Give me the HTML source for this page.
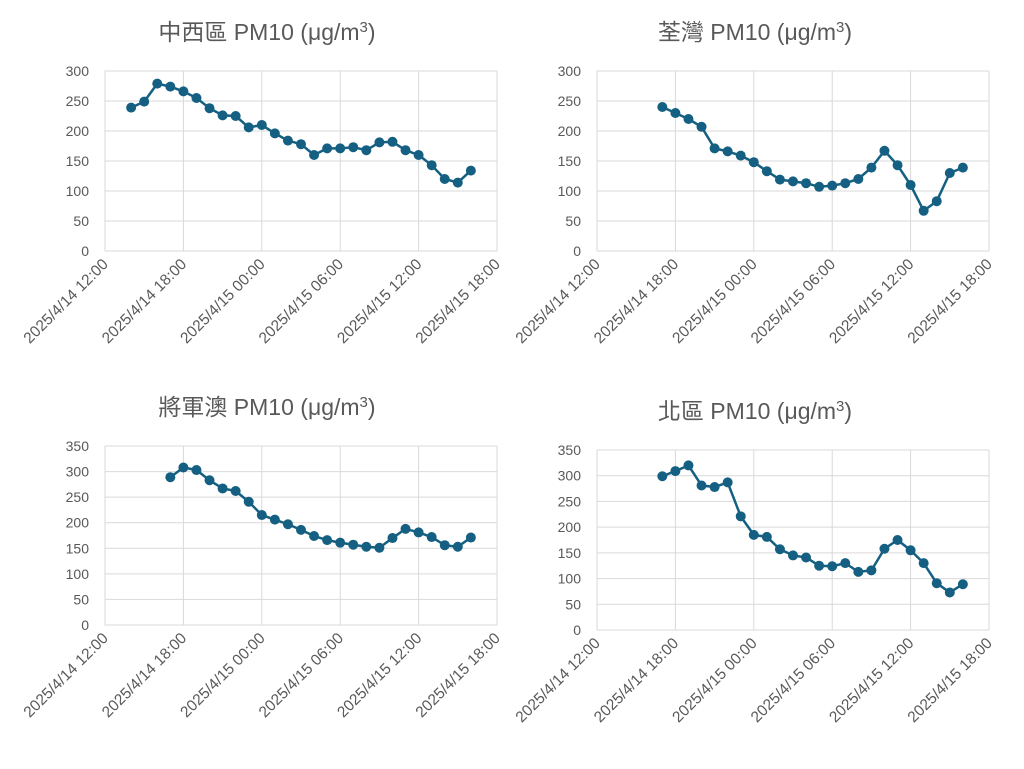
<!DOCTYPE html>
<html><head><meta charset="utf-8"><style>
body{margin:0;background:#fff;width:1024px;height:764px;overflow:hidden}
svg{font-family:"Liberation Sans","Noto Sans CJK TC",sans-serif}
</style></head><body>
<svg id="c" width="1024" height="764" viewBox="0 0 1024 764"></svg>
<script>
const tickLabels = ["2025/4/14 12:00","2025/4/14 18:00","2025/4/15 00:00","2025/4/15 06:00","2025/4/15 12:00","2025/4/15 18:00"];
const titles = ["中西區","荃灣","將軍澳","北區"];
const startHours = [2,5,5,5];
const centralValues = [239,249,279,274,266,255,238,226,225,206,210,196,184,178,160,171,171,173,168,181,182,168,160,143,120,114,134];
const tsuenWanValues = [240,230,220,207,171,166,159,148,133,119,116,113,107,109,113,120,139,167,143,110,67,83,130,139];
const tseungKwanOValues = [289,308,303,283,267,262,241,215,206,197,186,174,166,161,157,153,151,170,188,181,172,156,153,171];
const northValues = [299,309,320,281,278,287,221,185,181,157,145,141,125,124,130,113,116,158,175,155,130,91,73,89];
const yMaxes = [300,300,350,350];
const seriesList = [centralValues,tsuenWanValues,tseungKwanOValues,northValues];
const panels = [
 {x0:105,x1:497,yTop:71,yBot:251,tx:267,ty:40},
 {x0:597,x1:989,yTop:71,yBot:251,tx:755,ty:40},
 {x0:105,x1:497,yTop:446,yBot:625,tx:267,ty:415},
 {x0:597,x1:989,yTop:450,yBot:630,tx:755,ty:419}
];
const svg=document.getElementById('c');
const NS='http://www.w3.org/2000/svg';
function mk(tag,attrs,parent){const e=document.createElementNS(NS,tag);for(const k in attrs)e.setAttribute(k,attrs[k]);(parent||svg).appendChild(e);return e;}
panels.forEach((p,i)=>{
 const g=mk('g',{});
 
 
 const yMax=yMaxes[i];
 const xs=h=>p.x0+(p.x1-p.x0)*h/30;
 const ys=v=>p.yBot-(p.yBot-p.yTop)*v/yMax;
 const t=mk('text',{x:p.tx,y:p.ty,'text-anchor':'middle','font-size':23,fill:'#595959'},g);
 
 
 t.innerHTML=titles[i]+' PM10 (μg/m<tspan font-size="15" dy="-8">3</tspan><tspan dy="8">)</tspan>';
 for(let v=0;v<=yMax;v+=50){
  const l=mk('line',{x1:p.x0,x2:p.x1,y1:ys(v),y2:ys(v),stroke:'#d9d9d9','stroke-width':1},g);
  
  
  const tt=mk('text',{x:p.x0-16,y:ys(v)+5,'text-anchor':'end','font-size':14,fill:'#595959'},g);
  
  
  tt.textContent=v;
 }
 tickLabels.forEach((lab,k)=>{
  const x=xs(k*6);
  const l=mk('line',{x1:x,x2:x,y1:p.yTop,y2:p.yBot,stroke:'#d9d9d9','stroke-width':1},g);
  
  
  const tt=mk('text',{x:x+4,y:p.yBot+14,'text-anchor':'end','font-size':15.5,fill:'#595959',transform:`rotate(-45 ${x+4} ${p.yBot+14})`},g);
  
  
  tt.textContent=lab;
 });
 const vals=seriesList[i];
 const pts=vals.map((v,j)=>[xs(startHours[i]+j),ys(v)]);
 const pl=mk('polyline',{points:pts.map(q=>q.join(',')).join(' '),fill:'none',stroke:'#156082','stroke-width':2.5,'stroke-linejoin':'round'},g);
 
 
 pts.forEach(q=>{
  const c=mk('circle',{cx:q[0],cy:q[1],r:5,fill:'#156082'},g);
  
  
 });
});
</script>
</body></html>
